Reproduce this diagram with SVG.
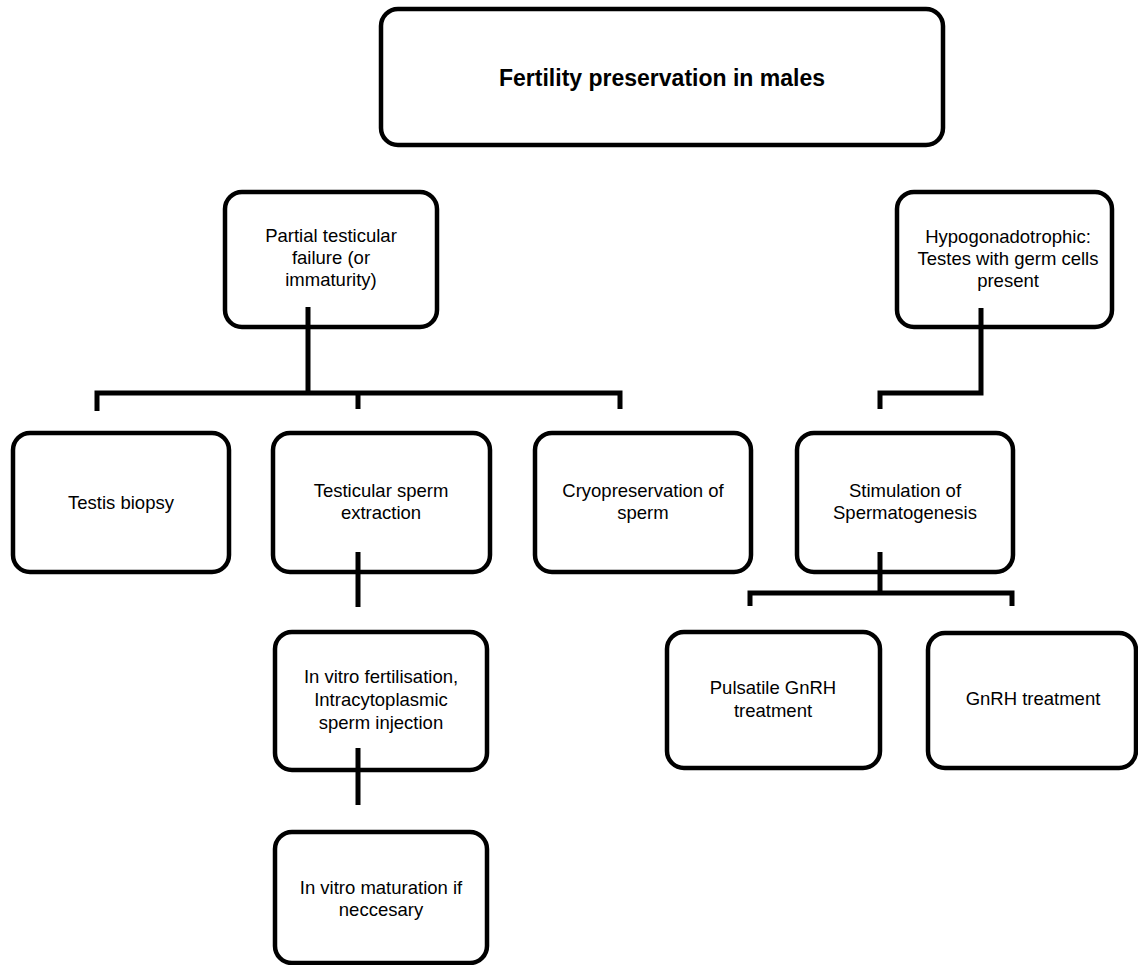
<svg xmlns="http://www.w3.org/2000/svg" width="1138" height="965" viewBox="0 0 1138 965">
<style>
.box{fill:#fff;stroke:#000;stroke-width:4.5}
.t{font-family:"Liberation Sans",Arial,sans-serif;font-size:18.5px;fill:#000;text-anchor:middle}
.title{font-family:"Liberation Sans",Arial,sans-serif;font-size:23px;font-weight:bold;fill:#000;text-anchor:middle}
.c{fill:none;stroke:#000;stroke-width:5;stroke-linecap:butt;stroke-linejoin:miter}
</style>
<rect width="1138" height="965" fill="#fff"/>
<g id="title">
<rect class="box" x="381" y="9" width="562" height="136" rx="17"/>
<text class="title" x="662" y="86">Fertility preservation in males</text>
</g>
<g id="partial">
<rect class="box" x="225" y="192" width="212" height="135" rx="17"/>
<text class="t" x="331" y="242">Partial testicular</text>
<text class="t" x="331" y="264">failure (or</text>
<text class="t" x="331" y="286">immaturity)</text>
</g>
<g id="hypo">
<rect class="box" x="897" y="192" width="215" height="135" rx="17"/>
<text class="t" x="1008" y="243">Hypogonadotrophic:</text>
<text class="t" x="1008" y="265">Testes with germ cells</text>
<text class="t" x="1008" y="287">present</text>
</g>
<g id="biopsy">
<rect class="box" x="13" y="433" width="216" height="139" rx="17"/>
<text class="t" x="121" y="509">Testis biopsy</text>
</g>
<g id="tese">
<rect class="box" x="273" y="433" width="217" height="139" rx="17"/>
<text class="t" x="381" y="497">Testicular sperm</text>
<text class="t" x="381" y="519">extraction</text>
</g>
<g id="cryo">
<rect class="box" x="535" y="433" width="216" height="139" rx="17"/>
<text class="t" x="643" y="497">Cryopreservation of</text>
<text class="t" x="643" y="519">sperm</text>
</g>
<g id="stim">
<rect class="box" x="797" y="433" width="216" height="139" rx="17"/>
<text class="t" x="905" y="497">Stimulation of</text>
<text class="t" x="905" y="519">Spermatogenesis</text>
</g>
<g id="ivf">
<rect class="box" x="275" y="632" width="212" height="138" rx="17"/>
<text class="t" x="381" y="683">In vitro fertilisation,</text>
<text class="t" x="381" y="706">Intracytoplasmic</text>
<text class="t" x="381" y="729">sperm injection</text>
</g>
<g id="ivm">
<rect class="box" x="275" y="832" width="212" height="131" rx="17"/>
<text class="t" x="381" y="894">In vitro maturation if</text>
<text class="t" x="381" y="916">neccesary</text>
</g>
<g id="pulsatile">
<rect class="box" x="667" y="632" width="213" height="136" rx="17"/>
<text class="t" x="773" y="694">Pulsatile GnRH</text>
<text class="t" x="773" y="717">treatment</text>
</g>
<g id="gnrh">
<rect class="box" x="928" y="633" width="208" height="135" rx="17"/>
<text class="t" x="1033" y="705">GnRH treatment</text>
</g>
<g id="connectors">
<path class="c" d="M308 307V393"/>
<path class="c" d="M97 411V393H620V409"/>
<path class="c" d="M358 393V409"/>
<path class="c" d="M358 552V607"/>
<path class="c" d="M358 748V805"/>
<path class="c" d="M981 308V393H880V409"/>
<path class="c" d="M880 552V593"/>
<path class="c" d="M750 606V593H1012V606"/>
</g>
</svg>
